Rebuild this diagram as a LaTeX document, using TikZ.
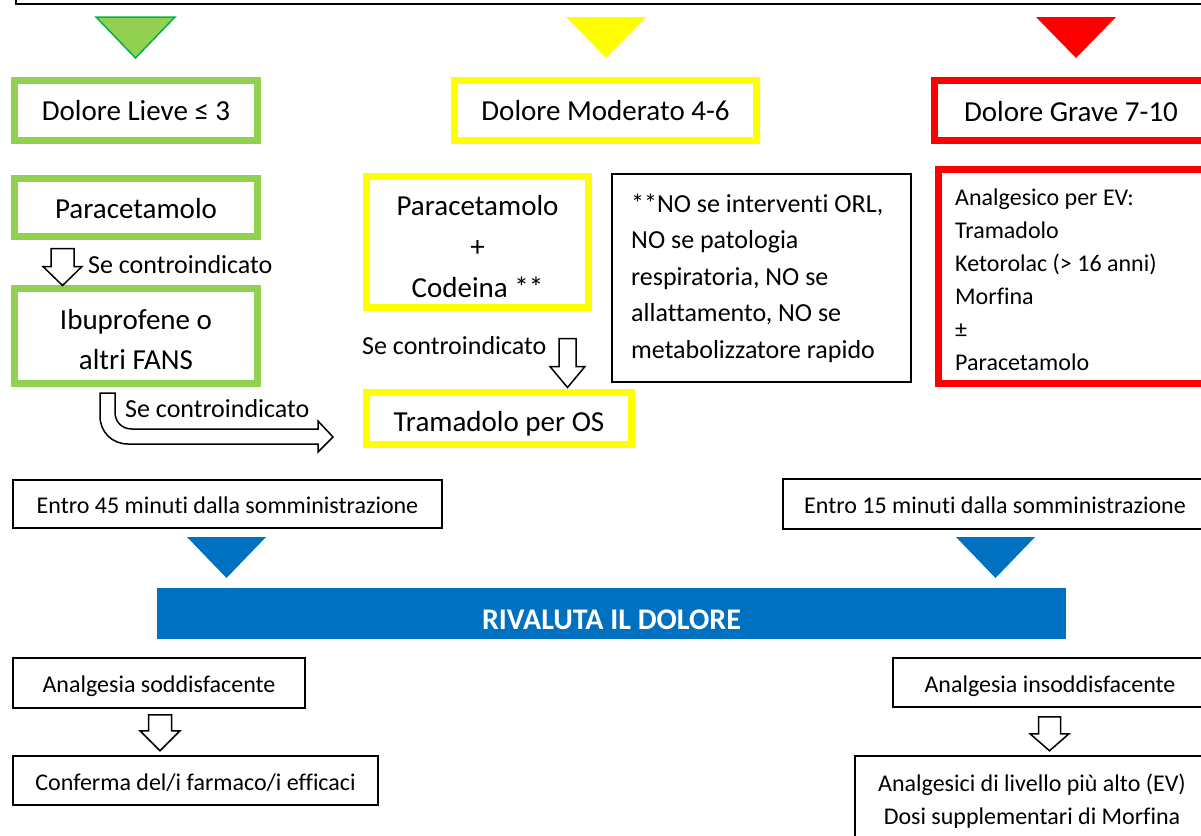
\documentclass[tikz,border=0pt]{standalone}
\usepackage{fontspec}
\setmainfont{Carlito}[Ligatures={NoCommon}]
\usetikzlibrary{calc}
\definecolor{cgreen}{HTML}{92D050}
\definecolor{cgreenline}{HTML}{00B050}
\definecolor{cyellow}{HTML}{FFFF00}
\definecolor{cred}{HTML}{FF0000}
\definecolor{cblue}{HTML}{0070C0}
\newcommand{\fsbig}{\fontsize{29}{35}\selectfont}
\newcommand{\fsibu}{\fontsize{29}{40}\selectfont}
\newcommand{\fscod}{\fontsize{29}{41}\selectfont}
\newcommand{\fsnote}{\fontsize{26}{36.5}\selectfont}
\newcommand{\fsev}{\fontsize{24}{33}\selectfont}
\newcommand{\fssmall}{\fontsize{24}{33}\selectfont}
\newcommand{\fslbl}{\fontsize{26}{30}\selectfont}
\newcommand{\fsrival}{\fontsize{30}{34}\selectfont}
\newcommand{\blockdown}[5]{\draw[openarrow, shift={#1}] (-#2,0) -- (#2,0) -- (#2,#4) -- (#3,#4) -- (0,#5) -- (-#3,#4) -- (-#2,#4) -- cycle;}
\tikzset{
  colbox/.style={draw, line width=7, inner sep=0, align=center},
  gbox/.style={colbox, draw=cgreen},
  ybox/.style={colbox, draw=cyellow},
  rbox/.style={colbox, draw=cred},
  bbox/.style={draw=black, line width=1.5, inner sep=0, align=center},
  bigone/.style={font=\fsbig, text height=21, text depth=0},
  smallone/.style={font=\fssmall, text height=19, text depth=0},
  lbl/.style={font=\fslbl, inner sep=0, anchor=west},
  plain/.style={inner sep=0, align=left, anchor=north west},
  openarrow/.style={draw=black, fill=white, line width=1.5, line join=miter},
  tri/.style={line width=1.5}
}
\begin{document}
\begin{tikzpicture}[x=1pt,y=-1pt]
\useasboundingbox (0,0) rectangle (1201,835);
\clip (0,0) rectangle (1201,835);

% title frame
\node[draw, line width=2, minimum width=1220, minimum height=60, anchor=south west, inner sep=0] (title) at (14.5,4.7) {};

% triangles
\filldraw[tri, fill=cgreen, draw=cgreenline] (96,17) -- (175,17) -- (135.5,58) -- cycle;
\fill[cyellow] (566,17) -- (646,17) -- (606,58) -- cycle;
\fill[cred] (1036,17) -- (1116,17) -- (1076,58) -- cycle;

% row 1
\node[gbox, bigone, minimum width=243, minimum height=60] (lieve) at (136,110) {Dolore Lieve ≤ 3};
\node[ybox, bigone, minimum width=302, minimum height=60] (moderato) at (605.5,110) {Dolore Moderato 4-6};
\node[rbox, bigone, minimum width=273, minimum height=60] (grave) at (1071,110.5) {Dolore Grave 7-10};

% green column
\node[gbox, bigone, minimum width=243, minimum height=58] (para) at (136,207.5) {Paracetamolo};
\node[gbox, font=\fsibu, text height=67, text depth=0, minimum width=243, minimum height=95] (ibu) at (136,336) {Ibuprofene o\\altri FANS};
\blockdown{($(para.south)+(-73.5,8.5)$)}{11.5}{19.5}{18}{37}
\node[lbl] (se1) at (88,265) {Se controindicato};

% bent arrow
\coordinate (bstart) at (100,393);
\draw[openarrow] (bstart) -- (115,393) -- (115,412) .. controls (115,422) and (122,429) .. (132,429) -- (318,429) -- (318,421) -- (333,437) -- (318,452) -- (318,444) -- (128,444) .. controls (112,444) and (100,432) .. (100,416) -- cycle;
\node[lbl] (se2) at (125,409) {Se controindicato};

% yellow column
\node[ybox, font=\fscod, text height=110, text depth=0, minimum width=222, minimum height=131] (codeina) at (477.5,242) {Paracetamolo\\+\\Codeina **};
\node[ybox, font=\fsbig, text height=25, text depth=0, minimum width=265, minimum height=52] (tramadolo) at (499,418.5) {Tramadolo per OS};
\blockdown{($(codeina.south)+(90,27.5)$)}{8.5}{17.5}{28}{49}
\node[lbl] (se3) at (362,346) {Se controindicato};

% note
\node[bbox, minimum width=299, minimum height=208, anchor=west] (note) at (611,278) {};
\node[plain, font=\fsnote, text height=166, text depth=0] (notetext) at (631,192)
 {**NO se interventi ORL,\\NO se patologia\\respiratoria, NO se\\allattamento, NO se\\metabolizzatore rapido};

% red column
\node[rbox, minimum width=300, minimum height=214, anchor=west] (ev) at (934.5,276.5) {};
\node[plain, font=\fsev, text height=183, text depth=0] (evtext) at (955,187)
 {Analgesico per EV:\\Tramadolo\\Ketorolac (> 16 anni)\\Morfina\\±\\Paracetamolo};

% timing
\node[bbox, smallone, minimum width=429, minimum height=48] (entro45) at (227.5,504) {Entro 45 minuti dalla somministrazione};
\node[bbox, smallone, minimum width=424, minimum height=50] (entro15) at (995,504) {Entro 15 minuti dalla somministrazione};
\fill[cblue] (187,537) -- (266,537) -- (226.5,578) -- cycle;
\fill[cblue] (956,537) -- (1035,537) -- (995.5,578) -- cycle;

\node[fill=cblue, minimum width=909, minimum height=51, inner sep=0, font=\bfseries\fsrival, text height=32.5, text depth=0, text=white] (rival) at (611.5,613.5) {RIVALUTA IL DOLORE};

% outcome
\node[bbox, smallone, minimum width=292, minimum height=50] (sodd) at (159,683) {Analgesia soddisfacente};
\node[bbox, smallone, minimum width=365, minimum height=49] (conf) at (195.5,780.5) {Conferma del/i farmaco/i efficaci};
\blockdown{($(sodd.south)+(1,6)$)}{11.5}{20}{16}{36}

\node[bbox, smallone, minimum width=314, minimum height=49] (insodd) at (1050,682.5) {Analgesia insoddisfacente};
\node[bbox, font=\fssmall, text height=52, text depth=0, minimum width=354, minimum height=85] (alto) at (1032,798.5) {Analgesici di livello più alto (EV)\\Dosi supplementari di Morfina};
\blockdown{($(insodd.south)+(-0.5,9)$)}{11}{19.5}{17}{34}
\end{tikzpicture}
\end{document}
